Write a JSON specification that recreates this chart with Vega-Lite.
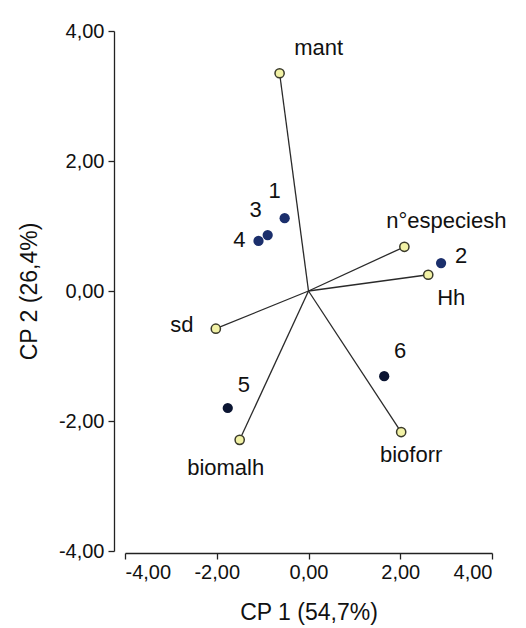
{
  "$schema": "https://vega.github.io/schema/vega-lite/v6.json",
  "width": 367,
  "height": 520,
  "autosize": "none",
  "padding": {"left": 125, "top": 31, "right": 34, "bottom": 77},
  "background": "white",
  "config": {
    "view": {"stroke": null},
    "font": "Liberation Sans",
    "axis": {"grid": false, "domainColor": "#222", "tickColor": "#222", "labelColor": "#111", "titleColor": "#111", "labelFont": "Liberation Sans", "titleFont": "Liberation Sans", "titleFontWeight": "normal", "labelFontSize": 20, "titleFontSize": 23, "domainWidth": 1.3, "tickWidth": 1.3, "tickSize": 6}
  },
  "datasets": {
    "vars": [
      {"name": "mant", "cp1": -0.63, "cp2": 3.35},
      {"name": "n°especiesh", "cp1": 2.09, "cp2": 0.68},
      {"name": "Hh", "cp1": 2.61, "cp2": 0.25},
      {"name": "sd", "cp1": -2.02, "cp2": -0.58},
      {"name": "biomalh", "cp1": -1.5, "cp2": -2.29},
      {"name": "bioforr", "cp1": 2.02, "cp2": -2.17}
    ],
    "objs": [
      {"name": "1", "cp1": -0.52, "cp2": 1.12, "grp": "a"},
      {"name": "3", "cp1": -0.89, "cp2": 0.86, "grp": "a"},
      {"name": "4", "cp1": -1.09, "cp2": 0.77, "grp": "a"},
      {"name": "2", "cp1": 2.89, "cp2": 0.43, "grp": "a"},
      {"name": "5", "cp1": -1.76, "cp2": -1.8, "grp": "b"},
      {"name": "6", "cp1": 1.65, "cp2": -1.31, "grp": "b"}
    ]
  },
  "layer": [
    {
      "data": {"name": "vars"},
      "mark": {"type": "rule", "color": "#2a2a2a", "strokeWidth": 1.3},
      "encoding": {
        "x": {"field": "cp1", "type": "quantitative", "scale": {"domain": [-4, 4], "nice": false, "zero": false},
          "axis": {"values": [-4, -2, 0, 2, 4], "offset": 2, "title": "CP 1 (54,7%)", "titlePadding": 19, "labelPadding": 3,
            "labelExpr": "(datum.value < 0 ? '-' : '') + replace(format(abs(datum.value), '.2f'), '.', ',')"}},
        "y": {"field": "cp2", "type": "quantitative", "scale": {"domain": [-4, 4], "nice": false, "zero": false},
          "axis": {"values": [-4, -2, 0, 2, 4], "offset": 11, "title": "CP 2 (26,4%)", "titlePadding": 17, "labelPadding": 4,
            "labelExpr": "(datum.value < 0 ? '-' : '') + replace(format(abs(datum.value), '.2f'), '.', ',')"}},
        "x2": {"datum": 0},
        "y2": {"datum": 0}
      }
    },
    {
      "data": {"name": "vars"},
      "mark": {"type": "point", "filled": true, "fill": "#f2f2a6", "stroke": "#3a3a2a", "strokeWidth": 1.5, "size": 85, "opacity": 1},
      "encoding": {
        "x": {"field": "cp1", "type": "quantitative"},
        "y": {"field": "cp2", "type": "quantitative"}
      }
    },
    {
      "data": {"name": "objs"},
      "mark": {"type": "circle", "size": 105, "opacity": 1},
      "encoding": {
        "x": {"field": "cp1", "type": "quantitative"},
        "y": {"field": "cp2", "type": "quantitative"},
        "color": {"field": "grp", "type": "nominal", "scale": {"domain": ["a", "b"], "range": ["#1b2f6c", "#0b1532"]}, "legend": null}
      }
    },
    {
      "data": {"name": "vars"},
      "transform": [{"filter": "datum.name == 'mant'"}],
      "mark": {"type": "text", "fontSize": 22, "color": "#111", "dx": 39, "dy": -25},
      "encoding": {"x": {"field": "cp1", "type": "quantitative"}, "y": {"field": "cp2", "type": "quantitative"}, "text": {"field": "name"}}
    },
    {
      "data": {"name": "vars"},
      "transform": [{"filter": "datum.name == 'n°especiesh'"}],
      "mark": {"type": "text", "fontSize": 22, "color": "#111", "dx": 42, "dy": -26},
      "encoding": {"x": {"field": "cp1", "type": "quantitative"}, "y": {"field": "cp2", "type": "quantitative"}, "text": {"field": "name"}}
    },
    {
      "data": {"name": "vars"},
      "transform": [{"filter": "datum.name == 'Hh'"}],
      "mark": {"type": "text", "fontSize": 22, "color": "#111", "dx": 23, "dy": 23},
      "encoding": {"x": {"field": "cp1", "type": "quantitative"}, "y": {"field": "cp2", "type": "quantitative"}, "text": {"field": "name"}}
    },
    {
      "data": {"name": "vars"},
      "transform": [{"filter": "datum.name == 'sd'"}],
      "mark": {"type": "text", "fontSize": 22, "color": "#111", "dx": -34, "dy": -4},
      "encoding": {"x": {"field": "cp1", "type": "quantitative"}, "y": {"field": "cp2", "type": "quantitative"}, "text": {"field": "name"}}
    },
    {
      "data": {"name": "vars"},
      "transform": [{"filter": "datum.name == 'biomalh'"}],
      "mark": {"type": "text", "fontSize": 22, "color": "#111", "dx": -14, "dy": 28},
      "encoding": {"x": {"field": "cp1", "type": "quantitative"}, "y": {"field": "cp2", "type": "quantitative"}, "text": {"field": "name"}}
    },
    {
      "data": {"name": "vars"},
      "transform": [{"filter": "datum.name == 'bioforr'"}],
      "mark": {"type": "text", "fontSize": 22, "color": "#111", "dx": 10, "dy": 23},
      "encoding": {"x": {"field": "cp1", "type": "quantitative"}, "y": {"field": "cp2", "type": "quantitative"}, "text": {"field": "name"}}
    },
    {
      "data": {"name": "objs"},
      "transform": [{"filter": "datum.name == '1'"}],
      "mark": {"type": "text", "fontSize": 22, "color": "#111", "dx": -10, "dy": -27},
      "encoding": {"x": {"field": "cp1", "type": "quantitative"}, "y": {"field": "cp2", "type": "quantitative"}, "text": {"field": "name"}}
    },
    {
      "data": {"name": "objs"},
      "transform": [{"filter": "datum.name == '3'"}],
      "mark": {"type": "text", "fontSize": 22, "color": "#111", "dx": -12, "dy": -25},
      "encoding": {"x": {"field": "cp1", "type": "quantitative"}, "y": {"field": "cp2", "type": "quantitative"}, "text": {"field": "name"}}
    },
    {
      "data": {"name": "objs"},
      "transform": [{"filter": "datum.name == '4'"}],
      "mark": {"type": "text", "fontSize": 22, "color": "#111", "dx": -19, "dy": -1},
      "encoding": {"x": {"field": "cp1", "type": "quantitative"}, "y": {"field": "cp2", "type": "quantitative"}, "text": {"field": "name"}}
    },
    {
      "data": {"name": "objs"},
      "transform": [{"filter": "datum.name == '2'"}],
      "mark": {"type": "text", "fontSize": 22, "color": "#111", "dx": 20, "dy": -7},
      "encoding": {"x": {"field": "cp1", "type": "quantitative"}, "y": {"field": "cp2", "type": "quantitative"}, "text": {"field": "name"}}
    },
    {
      "data": {"name": "objs"},
      "transform": [{"filter": "datum.name == '5'"}],
      "mark": {"type": "text", "fontSize": 22, "color": "#111", "dx": 16, "dy": -23},
      "encoding": {"x": {"field": "cp1", "type": "quantitative"}, "y": {"field": "cp2", "type": "quantitative"}, "text": {"field": "name"}}
    },
    {
      "data": {"name": "objs"},
      "transform": [{"filter": "datum.name == '6'"}],
      "mark": {"type": "text", "fontSize": 22, "color": "#111", "dx": 16, "dy": -25},
      "encoding": {"x": {"field": "cp1", "type": "quantitative"}, "y": {"field": "cp2", "type": "quantitative"}, "text": {"field": "name"}}
    }
  ]
}
